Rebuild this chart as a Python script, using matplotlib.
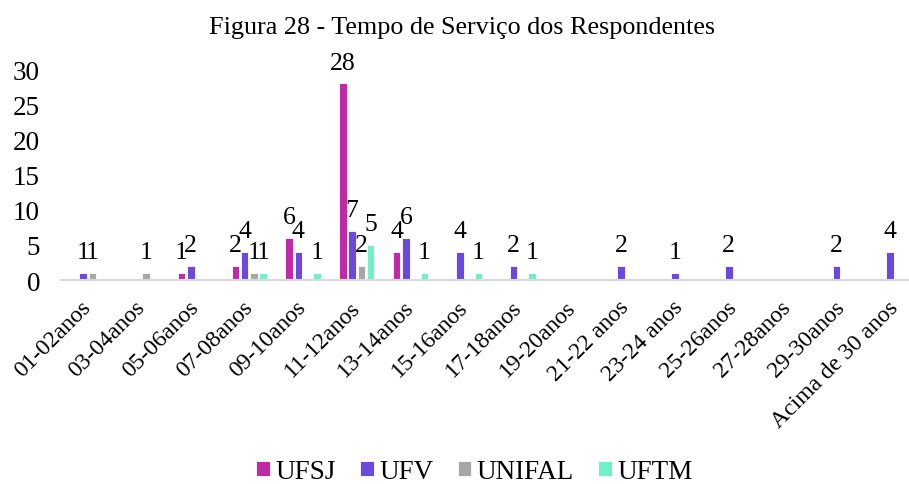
import matplotlib
matplotlib.use("Agg")
import matplotlib.pyplot as plt
import numpy as np

plt.rcParams['font.family'] = ['Liberation Serif', 'DejaVu Serif']

categorias = ["01-02anos", "03-04anos", "05-06anos", "07-08anos", "09-10anos",
              "11-12anos", "13-14anos", "15-16anos", "17-18anos", "19-20anos",
              "21-22 anos", "23-24 anos", "25-26anos", "27-28anos", "29-30anos",
              "Acima de 30 anos"]

ufsj = [0, 0, 1, 2, 6, 28, 4, 0, 0, 0, 0, 0, 0, 0, 0, 0]
ufv = [1, 0, 2, 4, 4, 7, 6, 4, 2, 0, 2, 1, 2, 0, 2, 4]
unifal = [1, 1, 0, 1, 0, 2, 0, 0, 0, 0, 0, 0, 0, 0, 0, 0]
uftm = [0, 0, 0, 1, 1, 5, 1, 1, 1, 0, 0, 0, 0, 0, 0, 0]

series = [("UFSJ", ufsj, "#C02AA6"),
          ("UFV", ufv, "#6B4ADB"),
          ("UNIFAL", unifal, "#A6A6A6"),
          ("UFTM", uftm, "#70F0C8")]

fig = plt.figure(figsize=(9.09, 4.85), dpi=100)
ax = fig.add_axes([0.067, 0.4206, 0.947, 0.435])

x = np.arange(len(categorias))
passo = 0.172
larg = 0.14

for i, (nome, vals, cor) in enumerate(series):
    pos = x + (i - 1.5) * passo
    ax.bar(pos, vals, width=larg, color=cor, edgecolor='white', linewidth=0.6,
           label=nome, zorder=2)
    # rotulo so para valores > 0
    for p, v in zip(pos, vals):
        if v > 0:
            ax.annotate(str(v), (p, v), xytext=(0, 10.5), textcoords='offset points',
                        ha='center', va='baseline', fontsize=18.5, annotation_clip=False)

ax.set_xlim(-0.5, len(categorias) - 0.5)
ax.set_ylim(0, 30)
ax.set_yticks([0, 5, 10, 15, 20, 25, 30])
ax.tick_params(axis='y', length=0, labelsize=19.5, pad=15)
ax.set_xticks(x)
ax.set_xticklabels(categorias, rotation=45, ha='right', va='center',
                   rotation_mode='anchor', fontsize=17)
ax.tick_params(axis='x', length=0, pad=17)

for s in ['top', 'right', 'left']:
    ax.spines[s].set_visible(False)
ax.spines['bottom'].set_color('#D9D9D9')
ax.spines['bottom'].set_linewidth(1.5)

fig.text(0.508, 0.93, "Figura 28 - Tempo de Serviço dos Respondentes",
         ha='center', va='baseline', fontsize=18.8)

fig.legend(loc='center', bbox_to_anchor=(0.522, 0.025), ncol=4, frameon=False,
           fontsize=19.5, handlelength=0.5, handleheight=0.5, handletextpad=0.2,
           columnspacing=0.9)

fig.savefig("out.png", dpi=100)
